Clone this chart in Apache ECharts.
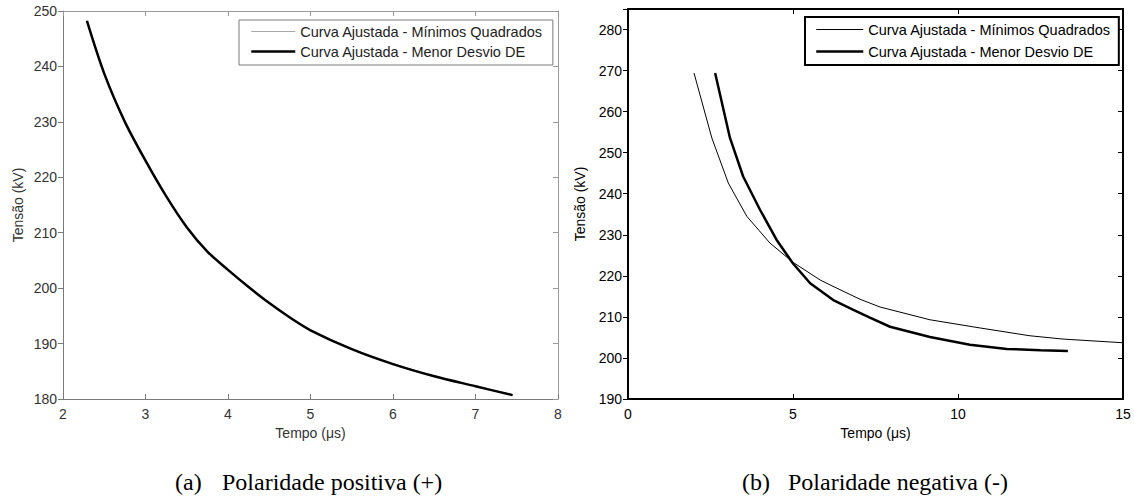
<!DOCTYPE html>
<html>
<head>
<meta charset="utf-8">
<script src="https://cdn.jsdelivr.net/npm/echarts@6/dist/echarts.min.js"></script>
<style>
  html, body { margin: 0; padding: 0; background: #fff; }
  #chart { width: 1134px; height: 501px; }
</style>
</head>
<body>
<div id="chart"></div>
<script>
// ---- data: (a) positive polarity ----
const posTime = [2.29, 2.5, 2.75, 3.0, 3.25, 3.5, 3.75, 4.0, 4.25, 4.5, 4.75, 5.0, 5.5, 6.0, 6.5, 7.0, 7.45];
const posLeastSquares = [248.3, 238.9, 230.1, 223.1, 216.7, 211.0, 206.7, 203.3, 200.3, 197.4, 194.8, 192.5, 189.1, 186.4, 184.2, 182.3, 180.8];
const posMinDeviation = [248.2, 238.7, 230.0, 223.0, 216.6, 211.0, 206.6, 203.3, 200.2, 197.3, 194.7, 192.4, 189.0, 186.3, 184.1, 182.3, 180.7];

// ---- data: (b) negative polarity ----
const negTimeLS = [2.0, 2.54, 3.04, 3.6, 4.3, 5.0, 5.82, 6.12, 7.03, 7.64, 9.15, 10.67, 12.18, 13.18, 15.0];
const negLeastSquares = [269.4, 253.6, 242.6, 234.5, 228.0, 223.3, 219.0, 217.8, 214.3, 212.4, 209.3, 207.3, 205.4, 204.6, 203.7];
const negTimeDE = [2.64, 3.09, 3.49, 4.0, 4.5, 5.0, 5.52, 6.22, 6.83, 7.33, 7.94, 9.15, 10.36, 11.48, 12.5, 13.33];
const negMinDeviation = [269.4, 253.6, 244.2, 236.1, 228.8, 223.0, 218.2, 214.1, 211.7, 209.8, 207.6, 205.1, 203.2, 202.2, 201.9, 201.7];

// ---- labels ----
const seriesNames = ['Curva Ajustada - Mínimos Quadrados', 'Curva Ajustada - Menor Desvio DE'];
const xTitle = 'Tempo (μs)';
const yTitle = 'Tensão (kV)';
const captions = [['(a)', 'Polaridade positiva (+)'], ['(b)', 'Polaridade negativa (-)']];

const zip = (xs, ys) => xs.map((x, i) => [x, ys[i]]);

const SANS = '"Liberation Sans", Arial, sans-serif';
const SERIF = '"Liberation Serif", "Times New Roman", serif';

// axis factory: main axes carry labels, mirrored axes only draw the frame + inner ticks
function axis(o) {
  return {
    type: 'value',
    gridIndex: o.grid,
    position: o.position,
    min: o.min, max: o.max, interval: o.interval,
    name: o.name || '',
    nameLocation: 'middle',
    nameGap: o.nameGap || 0,
    nameTextStyle: { fontFamily: SANS, fontSize: 14, color: o.text },
    axisLine: { show: true, onZero: false, lineStyle: { color: o.line, width: o.width } },
    axisTick: { show: true, inside: o.tickInside, length: 5, lineStyle: { color: o.line, width: 1 } },
    axisLabel: {
      show: !!o.labels, margin: o.margin || 6, fontFamily: SANS, fontSize: 14, color: o.text,
      formatter: o.formatter
    },
    splitLine: { show: false }
  };
}

const L = { line: '#7a7a7a', text: '#333333', width: 1 };
const R = { line: '#000000', text: '#000000', width: 2 };

// legend icons: line sample only (symbol hidden), same stroke width as the series
const hiddenSymbol = { color: 'transparent', borderWidth: 0, opacity: 0 };
const legendLine = { width: 'inherit' };

const option = {
  backgroundColor: '#ffffff',
  animation: false,
  grid: [
    { left: 63, top: 11, width: 495, height: 388 },
    { left: 628, top: 9, width: 495, height: 390 }
  ],
  xAxis: [
    axis(Object.assign({ grid: 0, position: 'bottom', min: 2, max: 8, interval: 1, labels: true, tickInside: true, margin: 8, name: xTitle, nameGap: 26 }, L)),
    axis(Object.assign({ grid: 0, position: 'top', min: 2, max: 8, interval: 1, tickInside: true }, L, { line: '#9a9a9a' })),
    axis(Object.assign({ grid: 1, position: 'bottom', min: 0, max: 15, interval: 5, labels: true, tickInside: true, margin: 8, name: xTitle, nameGap: 26 }, R)),
    axis(Object.assign({ grid: 1, position: 'top', min: 0, max: 15, interval: 5, tickInside: true }, R))
  ],
  yAxis: [
    axis(Object.assign({ grid: 0, position: 'left', min: 180, max: 250, interval: 10, labels: true, tickInside: false, margin: 6, name: yTitle, nameGap: 38 }, L)),
    axis(Object.assign({ grid: 0, position: 'right', min: 180, max: 250, interval: 10, tickInside: true }, L, { line: '#9a9a9a' })),
    axis(Object.assign({ grid: 1, position: 'left', min: 190, max: 285, interval: 10, labels: true, tickInside: false, margin: 6, name: yTitle, nameGap: 41,
      formatter: v => (v % 10 === 0 ? String(v) : '') }, R)),
    axis(Object.assign({ grid: 1, position: 'right', min: 190, max: 285, interval: 10, tickInside: true }, R))
  ],
  legend: [
    {
      data: seriesNames.map(n => n + ' '),
      orient: 'vertical', left: 239, top: 20,
      padding: [4, 6, 6, 11], itemGap: 5, itemWidth: 44, itemHeight: 15,
      borderColor: '#7a7a7a', borderWidth: 1, backgroundColor: '#fff',
      itemStyle: hiddenSymbol, lineStyle: legendLine,
      textStyle: { fontFamily: SANS, fontSize: 14.5, color: '#222', lineHeight: 15 },
      selectedMode: false
    },
    {
      data: seriesNames,
      orient: 'vertical', left: 805, top: 17,
      padding: [5, 8, 6, 10], itemGap: 7, itemWidth: 47, itemHeight: 15,
      borderColor: '#000', borderWidth: 2, backgroundColor: '#fff',
      itemStyle: hiddenSymbol, lineStyle: legendLine,
      textStyle: { fontFamily: SANS, fontSize: 14.5, color: '#000', lineHeight: 15 },
      selectedMode: false
    }
  ],
  series: [
    { name: seriesNames[0] + ' ', type: 'line', xAxisIndex: 0, yAxisIndex: 0, data: zip(posTime, posLeastSquares),
      symbol: 'none', smooth: 0.3, lineStyle: { color: '#a8a8a8', width: 1 }, itemStyle: { color: '#a8a8a8' } },
    { name: seriesNames[1] + ' ', type: 'line', xAxisIndex: 0, yAxisIndex: 0, data: zip(posTime, posMinDeviation),
      symbol: 'none', smooth: 0.3, lineStyle: { color: '#000', width: 2.5 }, itemStyle: { color: '#000' } },
    { name: seriesNames[0], type: 'line', xAxisIndex: 2, yAxisIndex: 2, data: zip(negTimeLS, negLeastSquares),
      symbol: 'none', lineStyle: { color: '#000', width: 1 }, itemStyle: { color: '#000' } },
    { name: seriesNames[1], type: 'line', xAxisIndex: 2, yAxisIndex: 2, data: zip(negTimeDE, negMinDeviation),
      symbol: 'none', lineStyle: { color: '#000', width: 2.5 }, itemStyle: { color: '#000' } }
  ],
  graphic: [
    { type: 'text', left: 175, top: 470, style: { text: captions[0][0], font: '24px ' + SERIF, fill: '#000' } },
    { type: 'text', left: 222, top: 470, style: { text: captions[0][1], font: '24px ' + SERIF, fill: '#000' } },
    { type: 'text', left: 742, top: 470, style: { text: captions[1][0], font: '24px ' + SERIF, fill: '#000' } },
    { type: 'text', left: 788, top: 470, style: { text: captions[1][1], font: '24px ' + SERIF, fill: '#000' } }
  ]
};

const chart = echarts.init(document.getElementById('chart'), null, { renderer: 'svg' });
chart.setOption(option);
</script>
</body>
</html>
